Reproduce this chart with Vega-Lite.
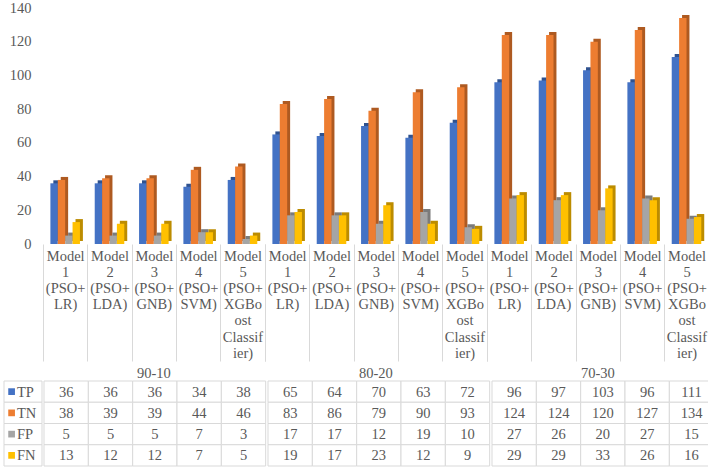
{
  "$schema": "https://vega.github.io/schema/vega-lite/v6.json",
  "background": "white",
  "padding": {"left": 3, "top": 0, "right": 0, "bottom": 0},
  "config": {
    "view": {"stroke": null},
    "font": "Liberation Serif",
    "axis": {"labelFont": "Liberation Serif", "labelFontSize": 14.5, "labelColor": "#595959"},
    "header": {"labelFont": "Liberation Serif", "labelFontSize": 14.5, "labelColor": "#595959"},
    "text": {"font": "Liberation Serif", "fontSize": 14.5, "color": "#595959"}
  },
  "datasets": {
    "cells": [
      {"split": "90-10", "model": "Model\n1\n(PSO+\nLR)", "metric": "TP", "value": 36},
      {"split": "90-10", "model": "Model\n1\n(PSO+\nLR)", "metric": "TN", "value": 38},
      {"split": "90-10", "model": "Model\n1\n(PSO+\nLR)", "metric": "FP", "value": 5},
      {"split": "90-10", "model": "Model\n1\n(PSO+\nLR)", "metric": "FN", "value": 13},
      {"split": "90-10", "model": "Model\n2\n(PSO+\nLDA)", "metric": "TP", "value": 36},
      {"split": "90-10", "model": "Model\n2\n(PSO+\nLDA)", "metric": "TN", "value": 39},
      {"split": "90-10", "model": "Model\n2\n(PSO+\nLDA)", "metric": "FP", "value": 5},
      {"split": "90-10", "model": "Model\n2\n(PSO+\nLDA)", "metric": "FN", "value": 12},
      {"split": "90-10", "model": "Model\n3\n(PSO+\nGNB)", "metric": "TP", "value": 36},
      {"split": "90-10", "model": "Model\n3\n(PSO+\nGNB)", "metric": "TN", "value": 39},
      {"split": "90-10", "model": "Model\n3\n(PSO+\nGNB)", "metric": "FP", "value": 5},
      {"split": "90-10", "model": "Model\n3\n(PSO+\nGNB)", "metric": "FN", "value": 12},
      {"split": "90-10", "model": "Model\n4\n(PSO+\nSVM)", "metric": "TP", "value": 34},
      {"split": "90-10", "model": "Model\n4\n(PSO+\nSVM)", "metric": "TN", "value": 44},
      {"split": "90-10", "model": "Model\n4\n(PSO+\nSVM)", "metric": "FP", "value": 7},
      {"split": "90-10", "model": "Model\n4\n(PSO+\nSVM)", "metric": "FN", "value": 7},
      {"split": "90-10", "model": "Model\n5\n(PSO+\nXGBo\nost\nClassif\nier)", "metric": "TP", "value": 38},
      {"split": "90-10", "model": "Model\n5\n(PSO+\nXGBo\nost\nClassif\nier)", "metric": "TN", "value": 46},
      {"split": "90-10", "model": "Model\n5\n(PSO+\nXGBo\nost\nClassif\nier)", "metric": "FP", "value": 3},
      {"split": "90-10", "model": "Model\n5\n(PSO+\nXGBo\nost\nClassif\nier)", "metric": "FN", "value": 5},
      {"split": "80-20", "model": "Model\n1\n(PSO+\nLR)", "metric": "TP", "value": 65},
      {"split": "80-20", "model": "Model\n1\n(PSO+\nLR)", "metric": "TN", "value": 83},
      {"split": "80-20", "model": "Model\n1\n(PSO+\nLR)", "metric": "FP", "value": 17},
      {"split": "80-20", "model": "Model\n1\n(PSO+\nLR)", "metric": "FN", "value": 19},
      {"split": "80-20", "model": "Model\n2\n(PSO+\nLDA)", "metric": "TP", "value": 64},
      {"split": "80-20", "model": "Model\n2\n(PSO+\nLDA)", "metric": "TN", "value": 86},
      {"split": "80-20", "model": "Model\n2\n(PSO+\nLDA)", "metric": "FP", "value": 17},
      {"split": "80-20", "model": "Model\n2\n(PSO+\nLDA)", "metric": "FN", "value": 17},
      {"split": "80-20", "model": "Model\n3\n(PSO+\nGNB)", "metric": "TP", "value": 70},
      {"split": "80-20", "model": "Model\n3\n(PSO+\nGNB)", "metric": "TN", "value": 79},
      {"split": "80-20", "model": "Model\n3\n(PSO+\nGNB)", "metric": "FP", "value": 12},
      {"split": "80-20", "model": "Model\n3\n(PSO+\nGNB)", "metric": "FN", "value": 23},
      {"split": "80-20", "model": "Model\n4\n(PSO+\nSVM)", "metric": "TP", "value": 63},
      {"split": "80-20", "model": "Model\n4\n(PSO+\nSVM)", "metric": "TN", "value": 90},
      {"split": "80-20", "model": "Model\n4\n(PSO+\nSVM)", "metric": "FP", "value": 19},
      {"split": "80-20", "model": "Model\n4\n(PSO+\nSVM)", "metric": "FN", "value": 12},
      {"split": "80-20", "model": "Model\n5\n(PSO+\nXGBo\nost\nClassif\nier)", "metric": "TP", "value": 72},
      {"split": "80-20", "model": "Model\n5\n(PSO+\nXGBo\nost\nClassif\nier)", "metric": "TN", "value": 93},
      {"split": "80-20", "model": "Model\n5\n(PSO+\nXGBo\nost\nClassif\nier)", "metric": "FP", "value": 10},
      {"split": "80-20", "model": "Model\n5\n(PSO+\nXGBo\nost\nClassif\nier)", "metric": "FN", "value": 9},
      {"split": "70-30", "model": "Model\n1\n(PSO+\nLR)", "metric": "TP", "value": 96},
      {"split": "70-30", "model": "Model\n1\n(PSO+\nLR)", "metric": "TN", "value": 124},
      {"split": "70-30", "model": "Model\n1\n(PSO+\nLR)", "metric": "FP", "value": 27},
      {"split": "70-30", "model": "Model\n1\n(PSO+\nLR)", "metric": "FN", "value": 29},
      {"split": "70-30", "model": "Model\n2\n(PSO+\nLDA)", "metric": "TP", "value": 97},
      {"split": "70-30", "model": "Model\n2\n(PSO+\nLDA)", "metric": "TN", "value": 124},
      {"split": "70-30", "model": "Model\n2\n(PSO+\nLDA)", "metric": "FP", "value": 26},
      {"split": "70-30", "model": "Model\n2\n(PSO+\nLDA)", "metric": "FN", "value": 29},
      {"split": "70-30", "model": "Model\n3\n(PSO+\nGNB)", "metric": "TP", "value": 103},
      {"split": "70-30", "model": "Model\n3\n(PSO+\nGNB)", "metric": "TN", "value": 120},
      {"split": "70-30", "model": "Model\n3\n(PSO+\nGNB)", "metric": "FP", "value": 20},
      {"split": "70-30", "model": "Model\n3\n(PSO+\nGNB)", "metric": "FN", "value": 33},
      {"split": "70-30", "model": "Model\n4\n(PSO+\nSVM)", "metric": "TP", "value": 96},
      {"split": "70-30", "model": "Model\n4\n(PSO+\nSVM)", "metric": "TN", "value": 127},
      {"split": "70-30", "model": "Model\n4\n(PSO+\nSVM)", "metric": "FP", "value": 27},
      {"split": "70-30", "model": "Model\n4\n(PSO+\nSVM)", "metric": "FN", "value": 26},
      {"split": "70-30", "model": "Model\n5\n(PSO+\nXGBo\nost\nClassif\nier)", "metric": "TP", "value": 111},
      {"split": "70-30", "model": "Model\n5\n(PSO+\nXGBo\nost\nClassif\nier)", "metric": "TN", "value": 134},
      {"split": "70-30", "model": "Model\n5\n(PSO+\nXGBo\nost\nClassif\nier)", "metric": "FP", "value": 15},
      {"split": "70-30", "model": "Model\n5\n(PSO+\nXGBo\nost\nClassif\nier)", "metric": "FN", "value": 16}
    ],
    "series": [
      {"metric": "TP"},
      {"metric": "TN"},
      {"metric": "FP"},
      {"metric": "FN"}
    ]
  },
  "spacing": 0,
  "vconcat": [
    {
      "spacing": 0,
      "hconcat": [
        {
          "width": 38,
          "height": 236,
          "data": {"name": "cells"},
          "mark": {"type": "tick", "opacity": 0},
          "encoding": {
            "y": {
              "field": "value",
              "type": "quantitative",
              "scale": {"domain": [0, 140], "nice": false},
              "axis": {
                "orient": "right",
                "title": null,
                "values": [0, 20, 40, 60, 80, 100, 120, 140],
                "domain": false,
                "ticks": false,
                "grid": false,
                "labelAlign": "right",
                "labelPadding": -11
              }
            }
          }
        },
        {
          "data": {"name": "cells"},
          "facet": {
            "column": {
              "field": "split",
              "type": "nominal",
              "sort": ["90-10", "80-20", "70-30"],
              "header": {"title": null, "labelOrient": "bottom", "labelPadding": 5}
            }
          },
          "spacing": 0,
          "spec": {
            "width": 221.67,
            "height": 236,
            "encoding": {
              "x": {
                "field": "model",
                "type": "nominal",
                "sort": null,
                "scale": {"type": "band", "paddingInner": 0, "paddingOuter": 0},
                "axis": {
                  "title": null,
                  "domain": false,
                  "tickBand": "extent",
                  "tickSize": 117,
                  "tickColor": "#d9d9d9",
                  "tickWidth": 1,
                  "labelAngle": 0,
                  "labelAlign": "center",
                  "labelBaseline": "top",
                  "labelPadding": -112,
                  "labelLineHeight": 16.2,
                  "labelOverlap": false,
                  "labelBound": false,
                  "labelLimit": 0,
                  "labelExpr": "split(datum.label, '\\n')"
                }
              },
              "y": {
                "field": "value",
                "type": "quantitative",
                "scale": {"domain": [0, 140], "nice": false},
                "axis": null
              }
            },
            "layer": [
              {
                "mark": {"type": "bar", "yOffset": -3},
                "encoding": {
                  "xOffset": {
                    "field": "metric",
                    "type": "nominal",
                    "sort": ["TP", "TN", "FP", "FN"],
                    "scale": {"paddingInner": 0, "paddingOuter": 1, "align": 0.7}
                  },
                  "fill": {
                    "field": "metric",
                    "type": "nominal",
                    "scale": {"domain": ["TP", "TN", "FP", "FN"], "range": ["#2F528F", "#AE5A21", "#7B7B7B", "#BC8C00"]},
                    "legend": null
                  }
                }
              },
              {
                "mark": {"type": "bar"},
                "encoding": {
                  "xOffset": {
                    "field": "metric",
                    "type": "nominal",
                    "sort": ["TP", "TN", "FP", "FN"],
                    "scale": {"paddingInner": 0, "paddingOuter": 1}
                  },
                  "color": {
                    "field": "metric",
                    "type": "nominal",
                    "scale": {"domain": ["TP", "TN", "FP", "FN"], "range": ["#4472C4", "#ED7D31", "#A5A5A5", "#FFC000"]},
                    "legend": null
                  }
                }
              }
            ],
            "resolve": {"scale": {"xOffset": "independent"}}
          }
        }
      ]
    },
    {
      "spacing": 0,
      "hconcat": [
        {
          "width": 38,
          "height": 85,
          "data": {"name": "series"},
          "encoding": {
            "y": {
              "field": "metric",
              "type": "nominal",
              "sort": null,
              "scale": {"type": "band", "paddingInner": 0, "paddingOuter": 0},
              "axis": null
            }
          },
          "layer": [
            {
              "mark": {"type": "rect", "fill": "white", "stroke": "#d9d9d9", "strokeWidth": 1},
              "encoding": {
                "x": {"datum": "series", "type": "nominal", "scale": {"type": "band", "paddingInner": 0, "paddingOuter": 0}, "axis": null}
              }
            },
            {
              "mark": {"type": "point", "shape": "square", "filled": true, "size": 45, "opacity": 1},
              "encoding": {
                "x": {"datum": "series", "type": "nominal", "bandPosition": 0.2},
                "color": {
                  "field": "metric",
                  "type": "nominal",
                  "scale": {"domain": ["TP", "TN", "FP", "FN"], "range": ["#4472C4", "#ED7D31", "#A5A5A5", "#FFC000"]},
                  "legend": null
                }
              }
            },
            {
              "mark": {"type": "text", "align": "left", "dy": 1},
              "encoding": {
                "x": {"datum": "series", "type": "nominal", "bandPosition": 0.34},
                "text": {"field": "metric", "type": "nominal"}
              }
            }
          ]
        },
        {
          "data": {"name": "cells"},
          "facet": {"column": {"field": "split", "type": "nominal", "sort": ["90-10", "80-20", "70-30"], "header": null}},
          "spacing": 0,
          "spec": {
            "width": 221.67,
            "height": 85,
            "encoding": {
              "x": {
                "field": "model",
                "type": "nominal",
                "sort": null,
                "scale": {"type": "band", "paddingInner": 0, "paddingOuter": 0},
                "axis": null
              },
              "y": {
                "field": "metric",
                "type": "nominal",
                "sort": ["TP", "TN", "FP", "FN"],
                "scale": {"type": "band", "paddingInner": 0, "paddingOuter": 0},
                "axis": null
              }
            },
            "layer": [
              {"mark": {"type": "rect", "fill": "white", "stroke": "#d9d9d9", "strokeWidth": 1}},
              {
                "mark": {"type": "text", "dy": 1},
                "encoding": {"text": {"field": "value", "type": "quantitative"}}
              }
            ]
          }
        }
      ]
    }
  ]
}
